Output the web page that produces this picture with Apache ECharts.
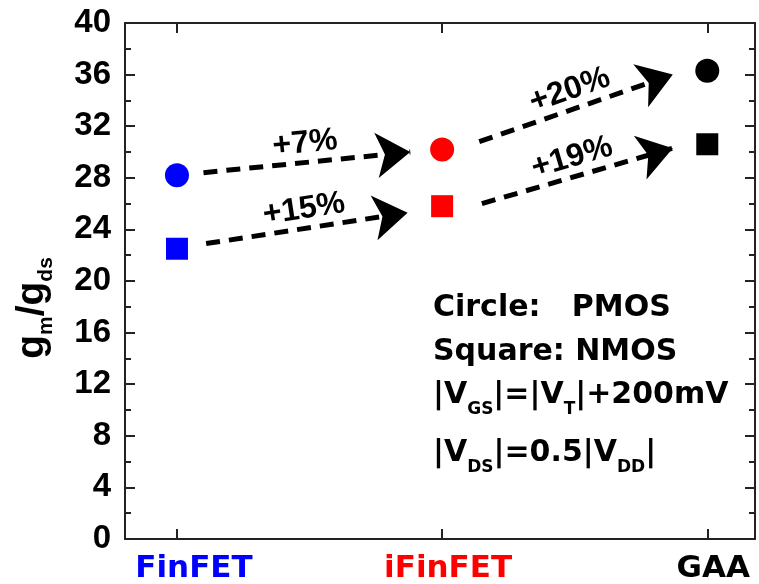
<!DOCTYPE html>
<html>
<head>
<meta charset="utf-8">
<script src="https://cdn.jsdelivr.net/npm/echarts@6/dist/echarts.min.js"></script>
<style>
html, body { margin: 0; padding: 0; background: #fff; }
#main { width: 759px; height: 584px; }
</style>
</head>
<body>
<div id="main"></div>
<script>
var categories = ['FinFET', 'iFinFET', 'GAA'];
var catColors = ['#0000ff', '#ff0000', '#000000'];
var pmos = [28.2, 30.2, 36.3];   // circles
var nmos = [22.5, 25.8, 30.6];   // squares
var arrowFrom = [[0.10, 28.4], [0.11, 22.9], [1.14, 30.8], [1.15, 26.0]];
var arrowTo = [[0.88, 30.0], [0.87, 25.3], [1.87, 36.0], [1.87, 30.3]];
var arrowText = ['+7%', '+15%', '+20%', '+19%'];

var numFont = 'Liberation Sans, Arial, sans-serif';
var wideFont = 'DejaVu Sans, Verdana, sans-serif';
var axisColor = '#222';

var myChart = echarts.init(document.getElementById('main'));

function pts(vals) {
    return vals.map(function (v, i) {
        return { value: [i, v], itemStyle: { color: catColors[i], opacity: 1 } };
    });
}

function xAxisBase(pos, showLabel) {
    return {
        type: 'value', position: pos, min: -0.196, max: 2.18,
        axisLine: { show: true, onZero: false, lineStyle: { color: axisColor, width: 2 } },
        axisTick: { show: true, inside: true, length: 10, customValues: [0, 1, 2],
            lineStyle: { color: axisColor, width: 2 } },
        splitLine: { show: false },
        axisLabel: showLabel ? {
            customValues: [0, 1, 2],
            margin: 14,
            formatter: function (v) {
                var i = Math.round(v);
                return '{c' + i + '|' + categories[i] + '}';
            },
            rich: {
                c0: { color: catColors[0], fontFamily: wideFont, fontWeight: 'bold', fontSize: 31, padding: [0, 0, 0, 34] },
                c1: { color: catColors[1], fontFamily: wideFont, fontWeight: 'bold', fontSize: 31, padding: [0, 0, 0, 12] },
                c2: { color: catColors[2], fontFamily: wideFont, fontWeight: 'bold', fontSize: 31, padding: [0, 0, 0, 12] }
            }
        } : { show: false }
    };
}

function yAxisBase(pos, showLabel) {
    return {
        type: 'value', position: pos, min: 0, max: 40, interval: 4,
        axisLine: { show: true, onZero: false, lineStyle: { color: axisColor, width: 2 } },
        axisTick: { show: true, inside: true, length: 10, lineStyle: { color: axisColor, width: 2 } },
        minorTick: { show: true, splitNumber: 2, length: 6, lineStyle: { color: axisColor, width: 2 } },
        splitLine: { show: false },
        axisLabel: showLabel ? {
            color: '#000', fontFamily: numFont, fontWeight: 'bold', fontSize: 33, margin: 14
        } : { show: false }
    };
}

var subRich = {
    m: { fontFamily: wideFont, fontWeight: 'bold', fontSize: 30, lineHeight: 46, color: '#000', verticalAlign: 'middle' },
    s: { fontFamily: wideFont, fontWeight: 'bold', fontSize: 17, lineHeight: 14, color: '#000', verticalAlign: 'bottom' }
};

function note(top, text) {
    return {
        type: 'text', left: 433, top: top,
        style: { text: text, rich: subRich, fill: '#000',
            font: 'bold 30px ' + wideFont }
    };
}

var option = {
    animation: false,
    grid: { left: 125, top: 23, right: 4, bottom: 45 },
    xAxis: [xAxisBase('bottom', true), xAxisBase('top', false)],
    yAxis: [yAxisBase('left', true), yAxisBase('right', false)],
    graphic: [
        {
            type: 'text', x: 32, y: 308, rotation: Math.PI / 2,
            style: {
                text: '{g|g}{s|m}{g|/g}{s|ds}',
                align: 'center', verticalAlign: 'middle',
                rich: {
                    g: { fontFamily: numFont, fontWeight: 'bold', fontSize: 39, lineHeight: 50, color: '#000', verticalAlign: 'middle' },
                    s: { fontFamily: numFont, fontWeight: 'bold', fontSize: 21, lineHeight: 18, color: '#000', verticalAlign: 'bottom' }
                }
            }
        },
        note(293, '{m|Circle:   PMOS}'),
        note(337, '{m|Square: NMOS}'),
        note(380, '{m||V}{s|GS}{m||=|V}{s|T}{m||+200mV}'),
        note(438, '{m||V}{s|DS}{m||=0.5|V}{s|DD}{m||}')
    ],
    series: [
        {
            type: 'lines', coordinateSystem: 'cartesian2d', z: 3,
            symbol: ['none', 'arrow'], symbolSize: [26, 34],
            lineStyle: { color: '#000', width: 5, type: [14, 9], opacity: 1, curveness: 0 },
            label: {
                show: true, position: 'middle', formatter: '{b}', distance: 3,
                color: '#000', fontFamily: numFont, fontWeight: 'bold', fontSize: 32
            },
            data: arrowFrom.map(function (p, i) {
                return { name: arrowText[i], coords: [p, arrowTo[i]] };
            })
        },
        { name: 'PMOS', type: 'scatter', symbol: 'circle', symbolSize: 24, z: 4, data: pts(pmos) },
        { name: 'NMOS', type: 'scatter', symbol: 'rect', symbolSize: 22, z: 4, data: pts(nmos) }
    ]
};
myChart.setOption(option);
</script>
</body>
</html>
